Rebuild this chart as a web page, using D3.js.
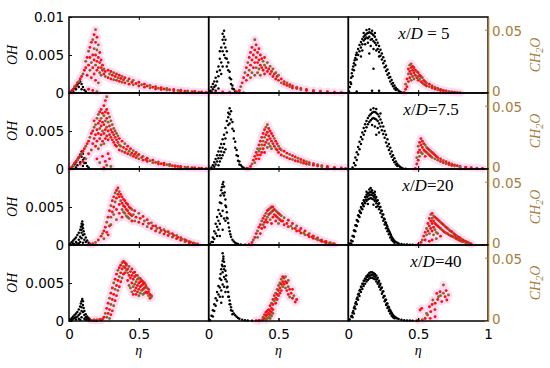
<!DOCTYPE html>
<html>
<head>
<meta charset="utf-8">
<script src="https://cdn.jsdelivr.net/npm/d3@7"></script>
<style>
  body { margin: 0; background: #fff; }
  svg { display: block; }
</style>
</head>
<body>
<svg id="chart" width="550" height="368"></svg>
<script>
// values; OH and CH2O both stored in units of 1e-3
// columns a, b, c of each row x/D = 5, 7.5, 20, 40; points are [eta, value]
const rowLabels = ["5", "7.5", "20", "40"];
const ohTicksTop = [0, 5, 10];
const ohTicks = [0, 5];
const chTicks = [0, 50];
const etaTicks = [0, 0.5];
const etaTicksLast = [0, 0.5, 1];

// ---- x/D = 5 ----
const oh_5_a = [[0.01,0.1],[0.02,0.3],[0.03,0.5],[0.04,0.7],[0.05,0.9],[0.06,1.1],[0.07,1.3],[0.08,1.5],[0.09,1.2],[0.1,0.8],[0.11,0.4],[0.12,0.2],[0.03,0.2],[0.05,0.5],[0.07,0.8],[0.09,0.5]];
const ch_5_a = [[0.02,1],[0.03,3],[0.04,5],[0.05,6],[0.06,8],[0.07,9],[0.08,11],[0.09,13],[0.1,15],[0.11,18],[0.12,20],
  [0.12,25],[0.13,28],[0.13,14],[0.14,33],[0.14,22],[0.15,36],[0.15,18],[0.15,28],[0.16,40],[0.16,24],[0.16,12],[0.17,30],[0.17,42],[0.17,20],[0.18,46],[0.18,35],[0.18,26],[0.18,15],[0.19,50],[0.19,40],[0.19,30],[0.19,22],[0.19,10],[0.2,44],[0.2,34],[0.2,25],[0.2,18],[0.21,38],[0.21,28],[0.21,20],[0.21,8],[0.22,32],[0.22,24],[0.22,16],[0.23,26],[0.23,20],[0.23,14],[0.24,22],[0.24,18],[0.25,19],[0.25,15],[0.26,17],[0.26,13],
  [0.14,3],[0.17,2],[0.2,1],
  [0.28,18],[0.3,17],[0.32,16],[0.34,15],[0.36,14],[0.38,13],[0.4,12],[0.43,11],[0.46,10],[0.5,8.5],[0.54,7],[0.58,6],[0.62,5],[0.66,4.2],[0.7,3.5],[0.75,2.8],[0.8,2.2],[0.85,1.6],[0.9,1.2],[0.95,0.8],[1,0.5],
  [0.28,12],[0.3,11],[0.32,10.5],[0.34,10],[0.36,9.2],[0.38,8.5],[0.4,8],[0.43,7],[0.46,6.5],[0.5,5.5],[0.54,4.6],[0.58,3.9],[0.62,3.2],[0.66,2.7],[0.7,2.3],[0.75,1.8],[0.8,1.4],[0.85,1],[0.9,0.8],[0.95,0.5],
  [0.29,15],[0.31,14],[0.33,13],[0.35,12],[0.37,11.5],[0.39,10.5],[0.42,9.5],[0.45,8.5],[0.48,7.5],[0.52,6.5],[0.56,5.5],[0.6,4.5],[0.64,3.8],[0.68,3.1],[0.72,2.6],[0.78,2],[0.83,1.4],[0.88,1],[0.93,0.7],[0.98,0.4]];
const oh_5_b = [[0.01,0.3],[0.02,0.8],[0.02,0.2],[0.03,1.2],[0.03,0.5],[0.04,1.5],[0.04,0.8],[0.05,2],[0.05,1],[0.05,0.3],[0.06,2.8],[0.06,1.5],[0.07,3.5],[0.07,2.2],[0.07,0.6],[0.08,4.5],[0.08,3],[0.08,5.5],[0.09,6],[0.09,4],[0.09,2.5],[0.1,7],[0.1,7.8],[0.1,5.5],[0.1,3.5],[0.11,8.2],[0.11,7.4],[0.11,6.5],[0.11,5],[0.12,7],[0.12,6],[0.12,4.6],[0.13,5.5],[0.13,4.5],[0.13,3.5],[0.14,4],[0.14,3],[0.15,2.8],[0.15,2],[0.16,1.8],[0.16,1.2],[0.17,1],[0.17,0.6],[0.18,0.5],[0.19,0.2],[0.2,0.1],[0.22,0.05],[0.25,0.02]];
const ch_5_b = [[0.05,0.5],[0.1,0.8],[0.15,0.6],[0.2,1],[0.22,2],[0.23,5],[0.24,8],[0.25,12],[0.26,16],[0.27,10],[0.27,20],[0.28,24],[0.28,14],[0.29,28],[0.29,18],[0.3,32],[0.3,22],[0.3,12],[0.31,36],[0.31,26],[0.31,16],[0.32,30],[0.32,20],[0.33,42],[0.33,34],[0.33,24],[0.33,14],[0.34,38],[0.34,28],[0.34,20],[0.35,32],[0.35,24],[0.35,16],[0.36,35],[0.36,26],[0.36,19],[0.37,30],[0.37,22],[0.37,14],[0.38,27],[0.38,20],[0.39,25],[0.39,18],[0.4,28],[0.4,22],[0.4,15],[0.41,20],[0.42,24],[0.42,17],[0.43,19],[0.44,21],[0.44,15],[0.45,17],[0.46,19],[0.46,13],[0.47,15],[0.48,16],[0.48,11],[0.49,13],[0.5,14],[0.5,10],[0.52,11],[0.52,8],[0.54,9],[0.54,7],[0.56,8],[0.56,6],[0.58,6.5],[0.58,5],[0.6,5.5],[0.6,4],[0.63,4.5],[0.63,3.5],[0.66,3.5],[0.66,2.5],[0.7,2.8],[0.7,2],[0.75,2],[0.75,1.4],[0.8,1.4],[0.8,1],[0.85,1],[0.9,0.6],[0.95,0.4]];
const oh_5_c = [[0.005,0.2],[0.01,0.8],[0.015,1.4],[0.02,2],[0.025,2.6],[0.03,3.1],[0.035,3.5],[0.04,3.9],[0.045,4.3],[0.05,4.6],[0.055,5],[0.06,5.3],[0.07,5.8],[0.08,6.3],[0.09,6.7],[0.1,7.1],[0.11,7.4],[0.12,7.6],[0.13,7.8],[0.14,7.9],[0.15,8],[0.16,7.9],[0.17,7.8],[0.18,7.6],[0.19,7.4],[0.2,7],[0.21,6.6],[0.22,6.2],[0.23,5.7],[0.24,5.2],[0.25,4.7],[0.26,4.2],[0.27,3.6],[0.28,3.1],[0.29,2.6],[0.3,2.1],[0.31,1.7],[0.32,1.3],[0.33,1],[0.34,0.7],[0.35,0.5],[0.36,0.3],[0.37,0.15],[0.38,0.08],
  [0.02,1.2],[0.03,2.2],[0.04,3],[0.05,3.7],[0.06,4.4],[0.07,5],[0.08,5.5],[0.09,6],[0.1,6.4],[0.11,6.9],[0.12,7.1],[0.13,7.3],[0.14,7.2],[0.15,7.4],[0.16,7],[0.17,7.1],[0.18,6.8],[0.19,6.6],[0.2,6.3],[0.21,5.8],[0.22,5.4],[0.23,4.9],[0.24,4.4],[0.25,3.9],[0.26,3.4],[0.27,2.9],[0.28,2.4],[0.29,2],[0.3,1.5],[0.31,1.2],[0.32,0.9],[0.33,0.6],[0.34,0.4],
  [0.12,6.4],[0.14,6.6],[0.16,6.2],[0.18,5.8],[0.13,8.3],[0.15,8.4],[0.17,8.2],[0.19,7.9],[0.11,7.9],[0.2,5.6],[0.1,5.6],[0.22,4.8],[0.15,5.2],[0.18,3.2],[0.06,0.2],[0.22,0.3],[0.09,4.8],[0.17,0.3]];
const ch_5_c = [[0.4,0.5],[0.41,3],[0.41,7],[0.42,11],[0.42,5],[0.43,15],[0.43,9],[0.43,19],[0.44,22],[0.44,17],[0.44,12],[0.45,23],[0.45,20],[0.45,15],[0.45,10],[0.46,21],[0.46,18],[0.46,13],[0.47,20],[0.47,16],[0.47,11],[0.48,18],[0.48,14],[0.49,17],[0.49,12],[0.5,16],[0.5,13],[0.5,10],[0.51,14],[0.51,11],[0.52,13],[0.52,9],[0.53,12],[0.53,8],[0.54,10],[0.54,7],[0.55,9],[0.55,6.5],[0.56,8],[0.56,5.5],[0.58,7],[0.58,5],[0.6,5.5],[0.6,4],[0.62,4.5],[0.62,3.2],[0.64,3.5],[0.64,2.5],[0.66,2.8],[0.66,2],[0.68,2.2],[0.68,1.5],[0.7,1.7],[0.72,1.2],[0.74,0.9],[0.76,0.6],[0.78,0.4],[0.8,0.3]];

// ---- x/D = 7.5 ----
const oh_75_a = [[0.02,0.2],[0.03,0.4],[0.04,0.6],[0.05,0.9],[0.06,1.2],[0.07,1.5],[0.08,1.9],[0.09,2.3],[0.09,1.6],[0.1,2],[0.1,1.2],[0.11,1.4],[0.11,0.8],[0.12,0.8],[0.13,0.4],[0.14,0.2],[0.06,0.5],[0.08,0.9],[0.05,0.2],[0.1,0.4]];
const ch_75_a = [[0.01,0.5],[0.02,1.5],[0.03,3],[0.04,4.5],[0.05,6],[0.06,7.5],[0.07,9],[0.08,10.5],[0.09,12],[0.1,14],[0.11,16],[0.12,18],[0.13,20],[0.14,22],[0.15,25],[0.08,4],[0.1,6],[0.12,8],[0.14,12],[0.16,28],[0.16,15],
  [0.17,30],[0.17,20],[0.18,33],[0.18,24],[0.18,38],[0.19,35],[0.19,27],[0.19,18],[0.2,40],[0.2,31],[0.2,22],[0.21,43],[0.21,36],[0.21,28],[0.21,16],[0.22,45],[0.22,38],[0.22,32],[0.22,24],[0.23,47],[0.23,40],[0.23,34],[0.23,27],[0.23,19],[0.24,44],[0.24,37],[0.24,30],[0.24,22],[0.25,50],[0.25,42],[0.25,35],[0.25,28],[0.25,20],[0.26,54],[0.26,45],[0.26,38],[0.26,31],[0.26,24],[0.27,57],[0.27,47],[0.27,40],[0.27,33],[0.27,26],[0.28,44],[0.28,37],[0.28,30],[0.28,23],[0.29,41],[0.29,34],[0.29,27],[0.3,38],[0.3,31],[0.3,25],[0.31,35],[0.31,29],[0.31,23],[0.32,32],[0.32,27],[0.32,21],[0.33,30],[0.33,25],[0.33,19],[0.34,28],[0.34,23],[0.34,18],[0.35,26],[0.35,21],[0.36,24],[0.36,19],[0.36,15],
  [0.2,8],[0.22,5],[0.24,10],[0.26,6],[0.27,3],[0.28,12],[0.29,8],[0.3,2],[0.25,1],
  [0.38,22],[0.4,20],[0.42,18],[0.44,16],[0.46,14.5],[0.48,13],[0.5,11.5],[0.53,10],[0.56,8.5],[0.6,7],[0.64,5.5],[0.68,4.5],[0.72,3.5],[0.76,2.7],[0.8,2],[0.85,1.4],[0.9,1],[0.95,0.6],[1,0.4],
  [0.38,14],[0.4,13],[0.42,12],[0.44,11],[0.46,10],[0.48,9],[0.5,8],[0.53,7],[0.56,6],[0.6,5],[0.64,4],[0.68,3.2],[0.72,2.5],[0.76,1.9],[0.8,1.4],[0.85,1],[0.9,0.7],[0.95,0.4],
  [0.37,18],[0.39,17],[0.41,15.5],[0.43,14],[0.45,12.5],[0.47,11.5],[0.49,10.5],[0.52,9],[0.55,7.5],[0.58,6.5],[0.62,5.2],[0.66,4.2],[0.7,3.3],[0.74,2.6],[0.78,2],[0.83,1.5],[0.88,1],[0.93,0.7],[0.98,0.4]];
const oh_75_b = [[0.02,0.2],[0.03,0.5],[0.04,0.9],[0.04,0.3],[0.05,1.3],[0.05,0.6],[0.06,1.8],[0.06,1],[0.07,2.3],[0.07,1.4],[0.07,0.5],[0.08,2.8],[0.08,1.8],[0.08,1],[0.09,3.3],[0.09,2.3],[0.09,1.4],[0.1,3.9],[0.1,2.8],[0.1,1.8],[0.11,4.5],[0.11,3.3],[0.11,2.2],[0.12,5.4],[0.12,4],[0.12,2.6],[0.13,6.3],[0.13,4.8],[0.14,7.4],[0.14,5.8],[0.14,6.8],[0.15,8],[0.15,7.2],[0.15,6],[0.16,7.6],[0.16,6.5],[0.17,6.2],[0.17,5.3],[0.18,5],[0.18,4],[0.19,3.6],[0.19,2.8],[0.2,2.5],[0.2,1.8],[0.21,1.7],[0.21,1.1],[0.22,1],[0.22,0.6],[0.23,0.5],[0.24,0.3],[0.25,0.15],[0.27,0.05]];
const ch_75_b = [[0.28,0.5],[0.3,2],[0.31,4],[0.32,7],[0.33,10],[0.33,5],[0.34,13],[0.34,8],[0.35,16],[0.35,11],[0.36,19],[0.36,14],[0.36,8],[0.37,22],[0.37,16],[0.37,11],[0.38,25],[0.38,19],[0.38,13],[0.39,28],[0.39,22],[0.39,16],[0.4,31],[0.4,25],[0.4,19],[0.4,13],[0.41,33],[0.41,27],[0.41,21],[0.42,35],[0.42,29],[0.42,23],[0.42,17],[0.43,32],[0.43,26],[0.43,20],[0.44,30],[0.44,24],[0.44,18],[0.45,28],[0.45,22],[0.45,16],[0.46,26],[0.46,20],[0.47,24],[0.47,18],[0.48,22],[0.48,16],[0.49,20],[0.49,15],[0.5,18],[0.5,13],[0.51,16],[0.52,15],[0.52,11],[0.54,14],[0.54,10],[0.56,12.5],[0.56,9],[0.58,11.5],[0.58,8],[0.6,10.5],[0.6,7.5],[0.62,9.5],[0.62,6.5],[0.64,8.5],[0.64,6],[0.66,7.5],[0.66,5.2],[0.68,6.5],[0.68,4.6],[0.7,5.8],[0.7,4],[0.72,5],[0.72,3.5],[0.75,4.2],[0.75,3],[0.78,3.4],[0.78,2.4],[0.81,2.6],[0.81,1.8],[0.85,2],[0.85,1.3],[0.9,1.3],[0.9,0.9],[0.95,0.8],[0.98,0.5]];
const oh_75_c = [[0.03,0.2],[0.04,0.8],[0.05,1.5],[0.06,2.2],[0.07,2.9],[0.08,3.6],[0.09,4.2],[0.1,4.8],[0.11,5.4],[0.12,5.9],[0.13,6.3],[0.14,6.7],[0.15,7],[0.16,7.2],[0.17,7.4],[0.18,7.5],[0.19,7.5],[0.2,7.4],[0.21,7.2],[0.22,6.9],[0.23,6.5],[0.24,6.1],[0.25,5.6],[0.26,5],[0.27,4.5],[0.28,3.9],[0.29,3.3],[0.3,2.8],[0.31,2.3],[0.32,1.8],[0.33,1.4],[0.34,1],[0.35,0.7],[0.36,0.45],[0.37,0.3],[0.38,0.15],[0.39,0.08],[0.41,0.03],
  [0.05,0.5],[0.06,1.2],[0.07,1.9],[0.08,2.6],[0.09,3.3],[0.1,3.9],[0.11,4.5],[0.12,5],[0.13,5.5],[0.14,5.9],[0.15,6.2],[0.16,6.4],[0.17,6.6],[0.18,6.7],[0.19,6.6],[0.2,6.5],[0.21,6.3],[0.22,6],[0.23,5.6],[0.24,5.1],[0.25,4.6],[0.26,4.1],[0.27,3.5],[0.28,3],[0.29,2.5],[0.3,2],[0.31,1.6],[0.32,1.2],[0.33,0.9],[0.34,0.6],[0.35,0.4],
  [0.18,8],[0.2,7.9],[0.19,5.6],[0.21,5.4],[0.17,5.8],[0.16,7.8],[0.22,4.8],[0.2,4.5],[0.23,7.3]];
const ch_75_c = [[0.48,0.5],[0.49,4],[0.49,9],[0.5,13],[0.5,7],[0.5,18],[0.51,21],[0.51,15],[0.51,10],[0.52,24],[0.52,19],[0.52,13],[0.53,22],[0.53,17],[0.53,12],[0.54,20],[0.54,15],[0.55,19],[0.55,14],[0.55,10],[0.56,17],[0.56,13],[0.57,16],[0.57,12],[0.58,15],[0.58,11],[0.59,14],[0.59,10],[0.6,13],[0.6,9],[0.61,12],[0.62,11],[0.62,8],[0.63,10],[0.64,9],[0.64,7],[0.66,8],[0.66,6],[0.68,6.8],[0.68,5],[0.7,5.8],[0.7,4.2],[0.72,4.8],[0.72,3.5],[0.74,4],[0.74,2.8],[0.76,3.2],[0.76,2.3],[0.78,2.6],[0.8,2],[0.8,1.4],[0.84,1.4],[0.88,1],[0.92,0.7],[0.96,0.4]];

// ---- x/D = 20 ----
const oh_20_a = [[0.01,0.2],[0.02,0.4],[0.03,0.6],[0.04,0.8],[0.05,1],[0.06,1.3],[0.07,1.6],[0.08,2],[0.085,2.4],[0.09,2.8],[0.095,3.1],[0.1,2.7],[0.1,2.2],[0.105,1.8],[0.11,1.4],[0.12,1],[0.13,0.6],[0.14,0.3],[0.15,0.15],[0.03,0.2],[0.05,0.4],[0.07,0.7],[0.08,1.1],[0.09,1.6],[0.09,0.9],[0.1,1.3],[0.11,0.7],[0.06,0.2],[0.08,0.4],[0.1,0.3],[0.12,0.4],[0.04,0.1],[0.07,0.2],[0.09,2],[0.095,2.5]];
const ch_20_a = [[0.15,0.5],[0.17,1],[0.19,2],[0.21,4],[0.23,7],[0.24,9],[0.25,11],[0.26,14],[0.27,18],[0.28,22],[0.29,27],[0.3,31],[0.31,35],[0.32,38],[0.33,41],[0.34,43],[0.35,45],[0.25,5],[0.27,10],[0.29,15],[0.3,22],[0.31,26],[0.32,30],[0.33,34],[0.34,37],[0.35,40],[0.36,42],[0.36,38],[0.37,40],[0.37,35],[0.38,38],[0.38,33],[0.38,28],[0.39,36],[0.39,31],[0.39,26],[0.4,35],[0.4,30],[0.4,25],[0.41,33],[0.41,28],[0.41,23],[0.42,32],[0.42,27],[0.42,22],[0.43,30],[0.43,25],[0.43,21],[0.44,29],[0.44,24],[0.45,28],[0.45,23],[0.45,19],[0.32,24],[0.34,28],[0.36,32],[0.34,20],[0.36,25],[0.38,22],[0.3,16],[0.28,8],
  [0.47,27],[0.5,25],[0.53,22.5],[0.56,20],[0.59,17.5],[0.62,15],[0.65,13.5],[0.68,12],[0.71,10.5],[0.74,9],[0.77,7.5],[0.8,5.8],[0.83,4.2],[0.86,2.8],[0.89,1.6],[0.92,0.9],
  [0.47,19],[0.5,18],[0.53,16.5],[0.56,14.5],[0.59,13],[0.62,11],[0.65,9.8],[0.68,8.6],[0.71,7.5],[0.74,6.2],[0.77,5],[0.8,3.8],[0.83,2.6],[0.86,1.7],[0.89,0.9],
  [0.46,24],[0.48,22],[0.51,21],[0.54,19],[0.57,17],[0.6,15],[0.63,13],[0.66,11.5],[0.69,10.5],[0.72,9],[0.75,7.5],[0.78,6],[0.81,4.6],[0.84,3.3],[0.87,2.2],[0.9,1.2]];
const oh_20_b = [[0.01,0.1],[0.02,0.4],[0.03,1],[0.04,1.8],[0.05,2.8],[0.05,1.5],[0.06,3.7],[0.06,2.4],[0.07,4.6],[0.07,3.2],[0.08,5.6],[0.08,4.1],[0.085,6.5],[0.09,7.2],[0.09,5.5],[0.095,7.6],[0.1,8],[0.1,6.8],[0.105,8.3],[0.11,7.7],[0.11,6.5],[0.115,6.9],[0.12,6],[0.12,5.2],[0.125,5],[0.13,4.3],[0.13,3.6],[0.135,3.5],[0.14,2.9],[0.145,2.3],[0.15,1.8],[0.155,1.4],[0.16,1.1],[0.17,0.7],[0.18,0.45],[0.19,0.3],[0.2,0.2],[0.21,0.12],[0.23,0.06],[0.26,0.02],[0.03,0.4],[0.04,0.8],[0.06,1.2],[0.07,2],[0.08,2.8],[0.09,3.8],[0.1,4.5],[0.11,3.5],[0.12,3.2],[0.08,1.2],[0.1,2]];
const ch_20_b = [[0.29,0.5],[0.31,2],[0.32,4],[0.33,6],[0.34,9],[0.35,11],[0.36,14],[0.37,16],[0.38,19],[0.39,21],[0.4,23],[0.41,25],[0.42,27],[0.43,28],[0.44,29],[0.45,30],[0.46,30],[0.35,6],[0.37,9],[0.38,13],[0.39,16],[0.4,18],[0.41,20],[0.42,22],[0.43,24],[0.44,25],[0.45,26],[0.46,27],[0.47,28],[0.48,27],[0.47,24],[0.48,23],[0.49,26],[0.49,22],[0.5,25],[0.5,21],[0.51,24],[0.51,20],[0.52,23],[0.52,19],[0.42,18],[0.44,20],[0.46,22],[0.48,19],[0.5,17],[0.45,17],[0.4,14],
  [0.54,21.5],[0.57,19.5],[0.6,17],[0.63,15],[0.66,13],[0.69,11],[0.72,9],[0.75,7.2],[0.78,5.5],[0.81,4],[0.84,2.8],[0.87,1.8],[0.9,1],
  [0.54,16],[0.57,14.5],[0.6,13],[0.63,11],[0.66,9.5],[0.69,8],[0.72,6.5],[0.75,5.2],[0.78,3.9],[0.81,2.8],[0.84,1.8],[0.87,1],
  [0.53,19],[0.56,17],[0.59,15],[0.62,13],[0.65,11.3],[0.68,9.5],[0.71,7.8],[0.74,6.3],[0.77,4.8],[0.8,3.5],[0.83,2.4],[0.86,1.5],[0.89,0.8]];
const oh_20_c = [[0.01,0.2],[0.02,0.6],[0.03,1.2],[0.04,1.9],[0.05,2.6],[0.06,3.3],[0.07,3.9],[0.08,4.5],[0.09,5],[0.1,5.5],[0.11,5.9],[0.12,6.3],[0.13,6.6],[0.14,6.8],[0.15,6.9],[0.16,7],[0.17,6.9],[0.18,6.8],[0.19,6.6],[0.2,6.3],[0.21,5.9],[0.22,5.5],[0.23,5],[0.24,4.5],[0.25,4],[0.26,3.4],[0.27,2.9],[0.28,2.4],[0.29,1.9],[0.3,1.5],[0.31,1.1],[0.32,0.8],[0.33,0.55],[0.34,0.4],[0.35,0.28],[0.36,0.2],[0.38,0.12],[0.4,0.08],[0.42,0.05],[0.44,0.03],[0.46,0.02],
  [0.03,0.5],[0.04,1.1],[0.05,1.8],[0.06,2.5],[0.07,3.1],[0.08,3.7],[0.09,4.2],[0.1,4.7],[0.11,5.1],[0.12,5.5],[0.13,5.8],[0.14,6],[0.15,6.1],[0.16,6.2],[0.17,6.1],[0.18,6],[0.19,5.8],[0.2,5.5],[0.21,5.1],[0.22,4.7],[0.23,4.2],[0.24,3.7],[0.25,3.2],[0.26,2.7],[0.27,2.2],[0.28,1.8],[0.29,1.4],[0.3,1],[0.31,0.7],[0.32,0.5],[0.33,0.3],
  [0.02,0.2],[0.035,1.2],[0.045,1.9],[0.055,2.6],[0.065,3.2],[0.075,3.8],[0.085,4.3],[0.095,4.8],[0.105,5.3],[0.115,5.7],[0.125,6],[0.135,6.3],[0.145,6.5],[0.155,6.6],[0.165,6.6],[0.175,6.5],[0.185,6.3],[0.195,6.1],[0.205,5.8],[0.215,5.4],[0.225,5],[0.235,4.5],[0.245,4],[0.255,3.5],[0.265,3],[0.275,2.6],[0.285,2.1],[0.295,1.7],[0.305,1.3],[0.315,0.9],[0.325,0.6],[0.335,0.4],
  [0.15,7.3],[0.17,7.2],[0.16,7.5],[0.13,7],[0.19,7],[0.2,5],[0.14,5.4],[0.18,5.3]];
const ch_20_c = [[0.5,0.5],[0.52,2],[0.53,4],[0.54,7],[0.55,10],[0.56,13],[0.57,17],[0.58,21],[0.59,24],[0.6,25],
  [0.55,4],[0.56,8],[0.57,11],[0.58,15],[0.58,9],[0.59,19],[0.59,13],[0.6,21],[0.6,17],[0.6,11],[0.61,23],[0.61,19],[0.61,14],[0.61,8],[0.62,22],[0.62,17],[0.62,12],[0.63,21],[0.63,16],[0.63,10],[0.64,20],[0.64,15],[0.64,9],[0.65,19],[0.65,14],[0.66,18],[0.66,13],[0.67,17],[0.67,12],[0.68,16],[0.68,11],[0.69,15],[0.69,10],[0.7,14],[0.7,9.5],[0.71,13],[0.71,9],[0.72,12],[0.72,8],[0.73,11],[0.73,7.5],[0.74,10.5],[0.74,7],[0.75,9.5],[0.75,6.5],[0.76,8.5],[0.76,6],[0.77,7.5],[0.77,5.2],[0.78,7],[0.78,4.5],[0.79,6],[0.79,4],[0.8,5.5],[0.8,3.5],[0.81,4.5],[0.81,3],[0.82,4],[0.82,2.5],[0.83,3.2],[0.84,2.8],[0.84,1.8],[0.85,2.2],[0.86,1.8],[0.87,1.2],[0.88,0.8],[0.6,4],[0.63,5],[0.66,7],[0.58,3]];

// ---- x/D = 40 ----
const oh_40_a = [[0.01,0.2],[0.02,0.4],[0.03,0.6],[0.04,0.8],[0.05,1],[0.06,1.2],[0.07,1.5],[0.08,1.9],[0.085,2.3],[0.09,2.6],[0.095,2.9],[0.1,2.6],[0.1,2.1],[0.105,1.7],[0.11,1.3],[0.12,0.9],[0.13,0.6],[0.14,0.4],[0.15,0.2],[0.16,0.1],[0.02,0.1],[0.03,0.3],[0.04,0.4],[0.05,0.5],[0.06,0.6],[0.07,0.8],[0.08,1],[0.09,1.3],[0.09,1.8],[0.1,1.2],[0.11,0.8],[0.12,0.5],[0.13,0.3],[0.05,0.2],[0.07,0.3],[0.09,0.5],[0.11,0.3],[0.08,0.15],[0.12,0.15],[0.14,0.1],[0.18,0.05],[0.2,0.03]];
const ch_40_a = [[0.16,0.5],[0.18,0.8],[0.2,1],[0.22,1.2],[0.24,1.5],[0.19,0.3],[0.23,0.5],
  [0.25,3],[0.26,6],[0.27,10],[0.28,14],[0.29,18],[0.3,22],[0.31,26],[0.32,30],[0.33,33],[0.34,37],[0.35,40],[0.36,42],[0.37,44],[0.38,46],[0.39,47],[0.4,46],
  [0.27,3],[0.28,6],[0.29,9],[0.3,13],[0.31,17],[0.32,21],[0.33,25],[0.34,28],[0.35,32],[0.36,35],[0.37,38],[0.38,41],[0.39,43],[0.4,42],[0.41,44],
  [0.29,2],[0.3,5],[0.31,8],[0.32,12],[0.33,16],[0.34,20],[0.35,24],[0.36,27],[0.37,31],[0.38,34],[0.39,37],[0.4,38],[0.41,40],[0.42,41],
  [0.41,45],[0.43,43],[0.45,41],[0.47,38.5],[0.49,36],[0.51,33.5],[0.53,31],[0.55,28.5],[0.57,25],[0.59,20],
  [0.42,38],[0.42,32],[0.43,36],[0.43,28],[0.44,39],[0.44,34],[0.44,26],[0.45,36],[0.45,30],[0.45,23],[0.46,38],[0.46,33],[0.46,27],[0.46,21],[0.47,35],[0.47,29],[0.47,24],[0.48,36],[0.48,31],[0.48,26],[0.48,21],[0.49,33],[0.49,28],[0.49,23],[0.5,34],[0.5,30],[0.5,25],[0.5,20],[0.51,31],[0.51,27],[0.51,22],[0.52,32],[0.52,28],[0.52,24],[0.53,29],[0.53,25],[0.53,21],[0.54,30],[0.54,26],[0.54,22],[0.55,27],[0.55,23],[0.56,26],[0.56,22],[0.57,23],[0.57,20],[0.58,21],[0.58,18],[0.59,19]];
const oh_40_b = [[0.01,0.1],[0.02,0.7],[0.03,1.4],[0.04,2.2],[0.05,3],[0.06,3.8],[0.07,4.6],[0.08,5.6],[0.085,6.2],[0.09,6.8],[0.095,7.4],[0.1,7.9],[0.105,8.2],[0.11,7.8],[0.115,7.2],[0.12,6.6],[0.125,6],[0.13,5.2],[0.135,4.5],[0.14,3.8],[0.145,3.2],[0.15,2.7],[0.155,2.2],[0.16,1.8],[0.17,1.3],[0.18,1],[0.19,0.75],[0.2,0.55],[0.21,0.4],[0.22,0.3],[0.24,0.18],[0.26,0.1],[0.28,0.05],[0.31,0.03],
  [0.03,0.6],[0.04,1.3],[0.05,2],[0.06,2.7],[0.07,3.5],[0.08,4.4],[0.09,5.4],[0.1,6.4],[0.1,7.2],[0.11,6.8],[0.11,5.8],[0.12,5.5],[0.13,4.4],[0.14,3.2],[0.15,2.2],[0.16,1.4],[0.17,0.9],[0.08,3.2],[0.09,4],[0.1,4.8],[0.11,4.5],[0.12,3.8],[0.09,2.4],[0.1,3.2],[0.105,8.5],[0.1,8.9]];
const ch_40_b = [[0.34,0.3],[0.36,0.5],[0.38,0.8],[0.36,0.2],
  [0.39,1],[0.39,3],[0.4,2],[0.4,5],[0.41,1],[0.41,4],[0.41,7],[0.42,2],[0.42,5],[0.42,8],[0.43,3],[0.43,6],[0.43,9],[0.44,2],[0.44,5],[0.44,8],[0.45,4],[0.45,7],[0.45,10],[0.46,6],[0.46,9],
  [0.44,12],[0.45,14],[0.46,13],[0.46,17],[0.47,16],[0.47,20],[0.48,18],[0.48,22],[0.48,14],[0.49,21],[0.49,25],[0.49,17],[0.5,24],[0.5,28],[0.5,20],[0.51,26],[0.51,30],[0.51,22],[0.52,29],[0.52,33],[0.52,24],[0.53,31],[0.53,27],[0.54,34],[0.54,29],[0.55,35],[0.55,31],[0.53,35],
  [0.55,26],[0.56,30],[0.56,24],[0.57,27],[0.57,21],[0.58,25],[0.58,19],[0.59,22],[0.6,18],[0.61,20],[0.62,15],[0.6,25],[0.57,32],[0.63,17]];
const oh_40_c = [[0.01,0.2],[0.02,0.6],[0.03,1.1],[0.04,1.7],[0.05,2.3],[0.06,2.9],[0.07,3.5],[0.08,4],[0.09,4.5],[0.1,4.9],[0.11,5.3],[0.12,5.6],[0.13,5.9],[0.14,6.1],[0.15,6.3],[0.16,6.4],[0.17,6.4],[0.18,6.3],[0.19,6.2],[0.2,6],[0.21,5.7],[0.22,5.3],[0.23,4.9],[0.24,4.4],[0.25,3.9],[0.26,3.3],[0.27,2.8],[0.28,2.3],[0.29,1.8],[0.3,1.4],[0.31,1.1],[0.32,0.8],[0.33,0.6],[0.34,0.45],[0.35,0.33],[0.36,0.25],[0.38,0.15],[0.4,0.1],[0.42,0.07],[0.44,0.05],[0.46,0.03],[0.49,0.02],
  [0.03,0.5],[0.04,1],[0.05,1.6],[0.06,2.2],[0.07,2.8],[0.08,3.3],[0.09,3.8],[0.1,4.2],[0.11,4.6],[0.12,4.9],[0.13,5.2],[0.14,5.4],[0.15,5.6],[0.16,5.7],[0.17,5.7],[0.18,5.6],[0.19,5.5],[0.2,5.2],[0.21,4.9],[0.22,4.5],[0.23,4.1],[0.24,3.6],[0.25,3.1],[0.26,2.6],[0.27,2.1],[0.28,1.7],[0.29,1.3],[0.3,1],[0.31,0.7],[0.32,0.5],[0.33,0.35],
  [0.025,0.7],[0.035,1.3],[0.045,1.9],[0.055,2.5],[0.065,3.1],[0.075,3.6],[0.085,4.1],[0.095,4.5],[0.105,4.9],[0.115,5.3],[0.125,5.5],[0.135,5.8],[0.145,5.9],[0.155,6],[0.165,6.1],[0.175,6.1],[0.185,5.9],[0.195,5.8],[0.205,5.5],[0.215,5.1],[0.225,4.7],[0.235,4.3],[0.245,3.8],[0.255,3.3],[0.265,2.8],[0.275,2.3],[0.285,1.9],[0.295,1.5],[0.305,1.2],[0.315,0.9],[0.325,0.6],[0.335,0.4]];
const ch_40_c = [[0.514,8.7],[0.526,10],[0.567,4.7],[0.581,11.3],[0.59,7.4],[0.605,16.6],[0.621,14],[0.633,21.8],[0.645,19.2],[0.657,23.1],[0.669,15.3],[0.681,28.4],[0.693,19.2],[0.705,16.6],[0.717,20.5],[0.586,2.1],[0.621,3.4],[0.56,6],[0.6,13],[0.64,17],[0.66,20],[0.7,24],[0.62,9],[0.68,22],[0.55,2],[0.5,0.5],[0.53,1]];

const rows = [
  [[oh_5_a, ch_5_a], [oh_5_b, ch_5_b], [oh_5_c, ch_5_c]],
  [[oh_75_a, ch_75_a], [oh_75_b, ch_75_b], [oh_75_c, ch_75_c]],
  [[oh_20_a, ch_20_a], [oh_20_b, ch_20_b], [oh_20_c, ch_20_c]],
  [[oh_40_a, ch_40_a], [oh_40_b, ch_40_b], [oh_40_c, ch_40_c]]
];

const mLeft = 69, mTop = 17, pw = 139.67, ph = 76;
const brown = "#a67d3d";

const svg = d3.select("#chart");
const x = d3.scaleLinear().domain([0, 1]).range([0, pw]);
const yOH = d3.scaleLinear().domain([0, 10]).range([ph, 0]);
const yCH = d3.scaleLinear().domain([0, 60]).range([ph, 0]);
const fmt = (v) => (v === 0 ? "0" : String(+(v / 1000).toFixed(4)));

// pink bleed around the red clouds first, so everything else sits on top
rows.forEach((row, r) => {
  row.forEach(([oh, ch], c) => {
    svg.append("g")
      .attr("transform", `translate(${mLeft + c * pw},${mTop + r * ph})`)
      .attr("opacity", 0.6)
      .selectAll("circle")
      .data(ch)
      .join("circle")
      .attr("cx", (d) => x(d[0]))
      .attr("cy", (d) => yCH(d[1]))
      .attr("r", 4)
      .attr("fill", "#ffc6ec");
  });
});

rows.forEach((row, r) => {
  row.forEach(([oh, ch], c) => {
    const g = svg.append("g")
      .attr("transform", `translate(${mLeft + c * pw},${mTop + r * ph})`);

    g.append("g")
      .selectAll("circle")
      .data(oh)
      .join("circle")
      .attr("cx", (d) => x(d[0]))
      .attr("cy", (d) => yOH(d[1]))
      .attr("r", 1.25)
      .attr("fill", "#000");

    g.append("g")
      .selectAll("circle")
      .data(ch)
      .join("circle")
      .attr("cx", (d) => x(d[0]))
      .attr("cy", (d) => yCH(d[1]))
      .attr("r", 1.45)
      .attr("fill", (d, i) => (i % 3 === 2 ? "#86662c" : "#f01414"));

    g.append("rect")
      .attr("width", pw)
      .attr("height", ph)
      .attr("fill", "none")
      .attr("stroke", "#000")
      .attr("stroke-width", 1.5);

    // small inward ticks at eta = 0.5 on top and bottom edges
    g.append("g")
      .call(d3.axisTop(x).tickValues([0.5]).tickSize(-3).tickFormat(""))
      .call((a) => a.select(".domain").remove());
    g.append("g")
      .attr("transform", `translate(0,${ph})`)
      .call(d3.axisBottom(x).tickValues([0.5]).tickSize(-3).tickFormat(""))
      .call((a) => a.select(".domain").remove());

    if (c === 0) {
      g.append("g")
        .attr("class", "ax")
        .call(d3.axisLeft(yOH).tickValues(r === 0 ? ohTicksTop : ohTicks).tickFormat(fmt).tickSize(-3).tickPadding(5))
        .call((a) => a.select(".domain").remove());
      g.append("text")
        .attr("transform", `translate(${12.5 - mLeft},${ph / 2}) rotate(-90)`)
        .attr("text-anchor", "middle")
        .attr("dy", "0.35em")
        .attr("font-family", "Liberation Serif, serif")
        .attr("font-style", "italic")
        .attr("font-size", 14)
        .text("OH");
    }

    if (r === 3) {
      g.append("g")
        .attr("class", "ax")
        .attr("transform", `translate(0,${ph})`)
        .call(d3.axisBottom(x).tickValues(c === 2 ? etaTicksLast : etaTicks).tickFormat((v) => String(v)).tickSize(-3).tickPadding(8))
        .call((a) => a.select(".domain").remove());
      g.append("text")
        .attr("x", pw / 2)
        .attr("y", 355 - mTop - r * ph)
        .attr("text-anchor", "middle")
        .attr("font-family", "Liberation Serif, serif")
        .attr("font-style", "italic")
        .attr("font-size", 14)
        .text("η");
    }

    if (c === 2) {
      const ra = g.append("g")
        .attr("class", "ax")
        .attr("transform", `translate(${pw},0)`)
        .call(d3.axisRight(yCH).tickValues(chTicks).tickFormat(fmt).tickSize(-3).tickPadding(4).tickSizeOuter(0));
      ra.select(".domain").attr("stroke", brown).attr("stroke-width", 1.6);
      ra.selectAll(".tick line").attr("stroke", brown);
      ra.selectAll(".tick text")
        .attr("fill", brown)
        .attr("dy", (d) => (d === 0 ? "0.15em" : "0.4em"));

      const lab = g.append("text")
        .attr("transform", `translate(${535 - mLeft - c * pw},${ph / 2}) rotate(-90)`)
        .attr("text-anchor", "middle")
        .attr("dy", "0.35em")
        .attr("font-family", "Liberation Serif, serif")
        .attr("font-style", "italic")
        .attr("font-size", 14)
        .attr("fill", brown);
      lab.append("tspan").text("CH");
      lab.append("tspan").attr("font-size", 10).attr("dy", 3).text("2");
      lab.append("tspan").attr("dy", -3).text("O");

      const ann = g.append("text")
        .attr("x", [50, 55, 54, 62][r])
        .attr("y", 22)
        .attr("font-family", "Liberation Serif, serif")
        .attr("font-size", 17);
      ann.append("tspan").attr("font-style", "italic").text("x");
      ann.append("tspan").text("/");
      ann.append("tspan").attr("font-style", "italic").text("D");
      ann.append("tspan").text(r === 0 ? " = " + rowLabels[r] : "=" + rowLabels[r]);
    }
  });
});

svg.selectAll(".ax text")
  .attr("font-family", "DejaVu Sans, sans-serif")
  .attr("font-size", 13.5);
svg.selectAll(".ax").attr("font-size", 13.5).attr("font-family", "DejaVu Sans, sans-serif");
</script>
</body>
</html>
